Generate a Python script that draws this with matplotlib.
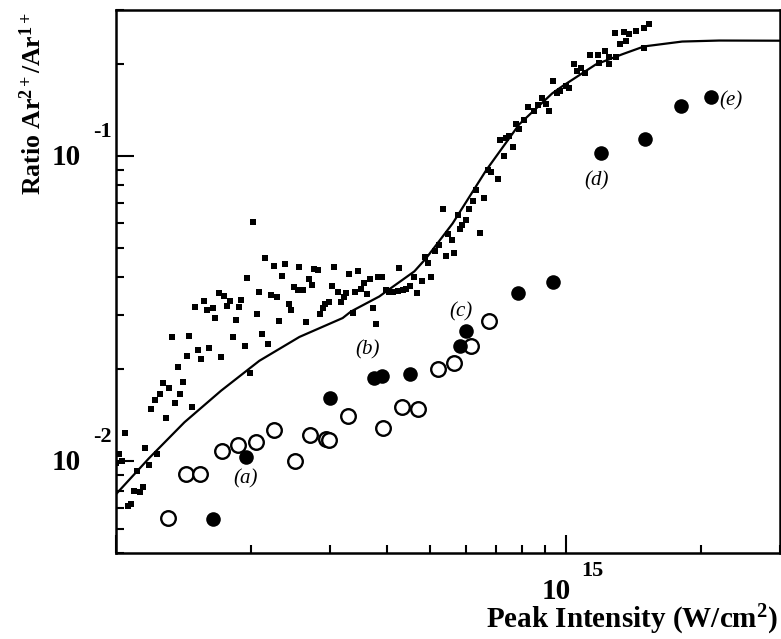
import matplotlib
matplotlib.use('Agg')
import matplotlib.pyplot as plt
from matplotlib.ticker import LogLocator, NullFormatter

# ---------------- data (intensity in units of 1e14 W/cm^2) ----------------
sq_I = [2.146, 2.242, 2.378, 2.345, 2.549, 1.957, 1.692, 1.743, 1.794, 1.568,
        1.502, 1.595, 1.641, 1.764, 1.875, 1.901, 2.082, 2.208, 2.279, 2.494,
        2.422, 2.452, 2.056, 1.664, 1.847, 2.309, 1.331, 1.457, 1.822, 2.117,
        1.933, 2.180, 1.614, 1.520, 1.437, 1.547, 1.716, 1.372, 1.991, 1.273,
        1.413, 1.313, 1.254, 1.391, 1.218, 1.351, 1.199, 1.479, 1.290, 1.048,
        1.163, 1.235, 1.018, 1.030, 1.001, 1.115, 1.183, 1.095, 1.128, 1.147,
        1.062, 1.081, 2.022,
        2.763, 2.810, 3.060, 3.305, 3.461, 2.683, 2.545, 2.602, 2.725, 3.024,
        3.124, 3.250, 3.403, 3.509, 3.569, 3.674, 3.834, 3.907, 4.254, 3.611,
        3.210, 3.168, 2.972, 2.922, 2.882, 2.848, 3.361, 3.724, 2.648, 3.789,
        3.988, 4.055, 4.139, 4.232, 4.342, 4.419, 4.510, 4.674, 4.610,
        8.862, 8.233, 8.666, 9.046, 8.520, 9.167, 8.067, 7.760, 7.893, 7.499,
        7.161, 7.373, 7.624, 7.309, 6.709, 6.828, 7.063, 6.321, 6.573, 6.212,
        6.087, 5.328, 5.753, 6.006, 5.872, 5.833, 6.462, 5.485, 5.579, 5.240,
        5.126, 5.655, 5.421, 4.877, 4.953, 5.022, 4.795,
        9.391, 9.717, 9.570, 10.02, 10.19, 10.42, 10.82, 10.63, 11.06, 11.35,
        11.78, 12.25, 11.88, 12.51, 12.98, 12.51, 12.88, 13.50, 13.86, 14.34,
        14.96, 15.35, 13.62, 13.21, 14.96]
sq_R = [0.0461, 0.0436, 0.0442, 0.0404, 0.0432, 0.0397, 0.0355, 0.0346, 0.0334, 0.0334,
        0.0320, 0.0313, 0.0317, 0.0321, 0.0320, 0.0336, 0.0357, 0.0349, 0.0345, 0.0372,
        0.0328, 0.0312, 0.0304, 0.0294, 0.0289, 0.0287, 0.0254, 0.0257, 0.0255, 0.0260,
        0.0238, 0.0241, 0.0234, 0.0231, 0.0221, 0.0216, 0.0219, 0.0203, 0.0194, 0.0180,
        0.0181, 0.0173, 0.0166, 0.0166, 0.0159, 0.0155, 0.0148, 0.0150, 0.0138, 0.0124,
        0.0110, 0.01053, 0.01053, 0.01002, 0.00982, 0.0093, 0.0097, 0.00798, 0.00793, 0.0082,
        0.00713, 0.00723, 0.0606,
        0.0425, 0.0423, 0.0433, 0.0410, 0.0420, 0.0395, 0.0364, 0.0364, 0.0376, 0.0373,
        0.0359, 0.0355, 0.0359, 0.0367, 0.0383, 0.0394, 0.0402, 0.0402, 0.0428, 0.0352,
        0.0344, 0.0332, 0.0331, 0.0328, 0.0317, 0.0304, 0.0306, 0.0317, 0.0285, 0.0282,
        0.0364, 0.0358, 0.0357, 0.0361, 0.0364, 0.0367, 0.0375, 0.0355, 0.0402,
        0.1547, 0.1446, 0.1465, 0.1473, 0.1401, 0.1401, 0.1306, 0.1268, 0.1227, 0.1162,
        0.1125, 0.1142, 0.1070, 0.1000, 0.0901, 0.0883, 0.0836, 0.0774, 0.0729, 0.0710,
        0.0667, 0.0671, 0.0638, 0.0615, 0.0592, 0.0574, 0.0559, 0.0554, 0.0529, 0.0510,
        0.0489, 0.0481, 0.0471, 0.0467, 0.0445, 0.0400, 0.0390,
        0.176, 0.163, 0.161, 0.169, 0.166, 0.199, 0.194, 0.190, 0.187, 0.214,
        0.213, 0.221, 0.201, 0.211, 0.210, 0.199, 0.252, 0.255, 0.250, 0.256,
        0.261, 0.269, 0.237, 0.233, 0.225]

theory_I = [1.0, 1.183, 1.420, 1.713, 2.084, 2.559, 3.193, 3.333, 3.853, 3.988,
            4.610, 4.894, 5.608, 6.653, 7.893, 9.342, 9.847, 11.68, 13.39, 14.96,
            18.18, 21.97, 30.0]
theory_R = [0.00779, 0.0102, 0.0134, 0.0170, 0.0213, 0.0255, 0.0294, 0.0309, 0.0346, 0.0359,
            0.0418, 0.0461, 0.0600, 0.0894, 0.1268, 0.160, 0.169, 0.199, 0.215, 0.228,
            0.2365, 0.2383, 0.238]

open_I = [1.304, 1.429, 1.536, 1.722, 1.865, 2.050, 2.251, 2.498, 2.707, 2.933,
          2.983, 3.276, 3.919, 4.320, 4.688, 5.212, 5.655, 6.171, 6.742]
open_R = [0.00650, 0.00907, 0.00907, 0.0108, 0.01126, 0.01155, 0.0126, 0.01002, 0.01214, 0.01184,
          0.01169, 0.0141, 0.01283, 0.0150, 0.01483, 0.0200, 0.0209, 0.0238, 0.0288]

filled_I = [1.647, 1.947, 2.998, 3.756, 3.907, 4.516, 5.833, 6.006, 7.823, 9.376,
            11.99, 15.04, 18.06, 21.05]
filled_R = [0.00648, 0.01033, 0.0161, 0.01866, 0.01894, 0.01927, 0.0239, 0.0266, 0.0355, 0.0385,
            0.102, 0.1133, 0.1454, 0.1555]

label_text = ['(a)', '(b)', '(c)', '(d)', '(e)']
label_I = [1.940, 3.624, 5.855, 11.70, 23.36]
label_R = [0.00872, 0.0232, 0.0309, 0.0829, 0.151]

UNIT = 1e14

# ---------------- figure ----------------
plt.rcParams['mathtext.fontset'] = 'custom'
plt.rcParams['mathtext.rm'] = 'Liberation Serif:bold'
plt.rcParams['mathtext.bf'] = 'Liberation Serif:bold'
plt.rcParams['mathtext.it'] = 'Liberation Serif:italic:bold'

W, H = 781, 639
fig = plt.figure(figsize=(W / 100, H / 100), dpi=100)
L, R, T, B = 116, 780, 10, 553
ax = fig.add_axes([L / W, 1 - B / H, (R - L) / W, (B - T) / H])

ax.set_xscale('log')
ax.set_yscale('log')
ax.set_xlim(1e14, 3e15)
ax.set_ylim(5e-3, 0.3)

ax.plot([i * UNIT for i in theory_I], theory_R, '-', color='black', lw=1.6, zorder=2)
ax.plot([i * UNIT for i in sq_I], sq_R, 's', color='black', ms=4.3, mew=0, zorder=3)
ax.plot([i * UNIT for i in open_I], open_R, 'o', mfc='white', mec='black', mew=1.7,
        ms=10.5, zorder=4)
ax.plot([i * UNIT for i in filled_I], filled_R, 'o', color='black', ms=10.5, mew=0, zorder=4)

for t, xi, yi in zip(label_text, label_I, label_R):
    ax.text(xi * UNIT, yi, t, ha='center', va='center', fontsize=15,
            family='Liberation Serif', style='italic')

for s in ax.spines.values():
    s.set_linewidth(1.8)

ax.xaxis.set_major_locator(LogLocator(base=10, numticks=10))
ax.xaxis.set_minor_locator(LogLocator(base=10, subs=range(2, 10), numticks=20))
ax.yaxis.set_major_locator(LogLocator(base=10, numticks=10))
ax.yaxis.set_minor_locator(LogLocator(base=10, subs=range(2, 10), numticks=20))
ax.xaxis.set_major_formatter(NullFormatter())
ax.xaxis.set_minor_formatter(NullFormatter())
ax.yaxis.set_major_formatter(NullFormatter())
ax.yaxis.set_minor_formatter(NullFormatter())
ax.tick_params(which='both', direction='in', top=False, right=False, width=1.5)
ax.tick_params(which='major', length=13)
ax.tick_params(which='minor', length=6)

# tick labels drawn as base + exponent
tick_font = dict(family='Liberation Serif', fontweight='bold')
for val, exp in [(0.1, '-1'), (0.01, '-2')]:
    ax.annotate('10', xy=(0, val), xycoords=('axes fraction', 'data'),
                xytext=(-36, -1), textcoords='offset points', ha='center', va='center',
                fontsize=21, **tick_font)
    ax.annotate(exp, xy=(0, val), xycoords=('axes fraction', 'data'),
                xytext=(-3, 17), textcoords='offset points', ha='right', va='center',
                fontsize=16, **tick_font)
ax.annotate('10', xy=(1e15, 0), xycoords=('data', 'axes fraction'),
            xytext=(-7, -28), textcoords='offset points', ha='center', va='center',
            fontsize=21, **tick_font)
ax.annotate('15', xy=(1e15, 0), xycoords=('data', 'axes fraction'),
            xytext=(19.5, -13), textcoords='offset points', ha='center', va='center',
            fontsize=16, **tick_font)

fig.text(778 / W, 1 - 620 / H, r'Peak Intensity (W/cm$^{2}$)', ha='right', va='center',
         fontsize=21, **tick_font)
fig.text(33 / W, 1 - 104 / H, r'Ratio Ar$^{2+}$/Ar$^{1+}$', ha='center', va='center',
         rotation=90, fontsize=18.5, **tick_font)

fig.savefig('out.png', dpi=100)
